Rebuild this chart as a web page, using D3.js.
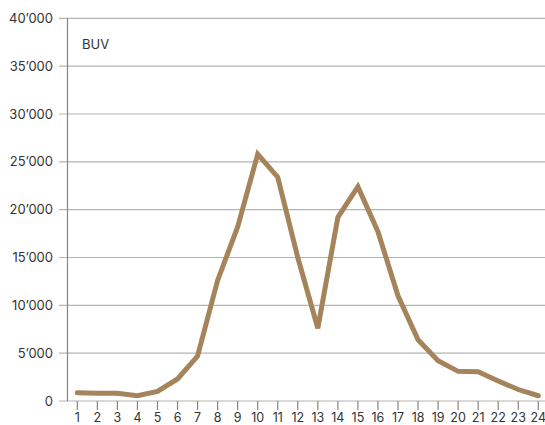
<!DOCTYPE html>
<html><head><meta charset="utf-8">
<script src="https://cdn.jsdelivr.net/npm/d3@7"></script>
<style>body{margin:0;background:#fff}svg{display:block}text{font-family:Inter,"Liberation Sans",Arial,sans-serif}</style>
</head><body><svg id="c" width="545" height="425"></svg>
<script>
const hours = ["1","2","3","4","5","6","7","8","9","10","11","12","13","14","15","16","17","18","19","20","21","22","23","24"];
const buv = [850,800,800,550,1000,2300,4700,12600,18200,25800,23400,15000,7600,19200,22400,17700,11000,6400,4200,3100,3050,2100,1200,550];
const yTicks = [0,5000,10000,15000,20000,25000,30000,35000,40000];
const seriesLabel = "BUV";

const svg = d3.select("#c");
const x = d3.scalePoint().domain(hours).range([77.3,538.3]);
const y = d3.scaleLinear().domain([0,40000]).range([401,18.3]);
const fmt = v => v===0 ? "0" : d3.format(",")(v).replace(/,/g,"\u2019");

svg.append("g").selectAll("line").data(yTicks).join("line")
  .attr("x1",59).attr("x2",545).attr("y1",d=>y(d)).attr("y2",d=>y(d))
  .attr("stroke","#b4b4b0").attr("stroke-width",1.2);
svg.append("g").selectAll("text").data(yTicks).join("text")
  .attr("x",53).attr("y",d=>y(d)).attr("dy","0.36em").attr("text-anchor","end")
  .attr("font-size",13).attr("fill","#333").text(fmt);
svg.append("line").attr("x1",67.5).attr("x2",67.5).attr("y1",y(40000)).attr("y2",y(0))
  .attr("stroke","#858580").attr("stroke-width",1.2);
svg.append("g").selectAll("line").data(hours).join("line")
  .attr("x1",d=>x(d)).attr("x2",d=>x(d)).attr("y1",y(0)).attr("y2",y(0)+9)
  .attr("stroke","#858580").attr("stroke-width",1.2);
svg.append("g").selectAll("text").data(hours).join("text")
  .attr("x",d=>x(d)).attr("y",422).attr("text-anchor","middle")
  .attr("font-size",12.5).attr("fill","#333").text(d=>d);
svg.append("path").datum(buv)
  .attr("d",d3.line().x((d,i)=>x(hours[i])).y(d=>y(d)))
  .attr("fill","none").attr("stroke","#a5845b").attr("stroke-width",5)
  .attr("stroke-linejoin","miter").attr("stroke-linecap","round");
svg.append("text").attr("x",82).attr("y",44).attr("dy","0.36em")
  .attr("font-size",13).attr("fill","#333").text(seriesLabel);
</script></body></html>
